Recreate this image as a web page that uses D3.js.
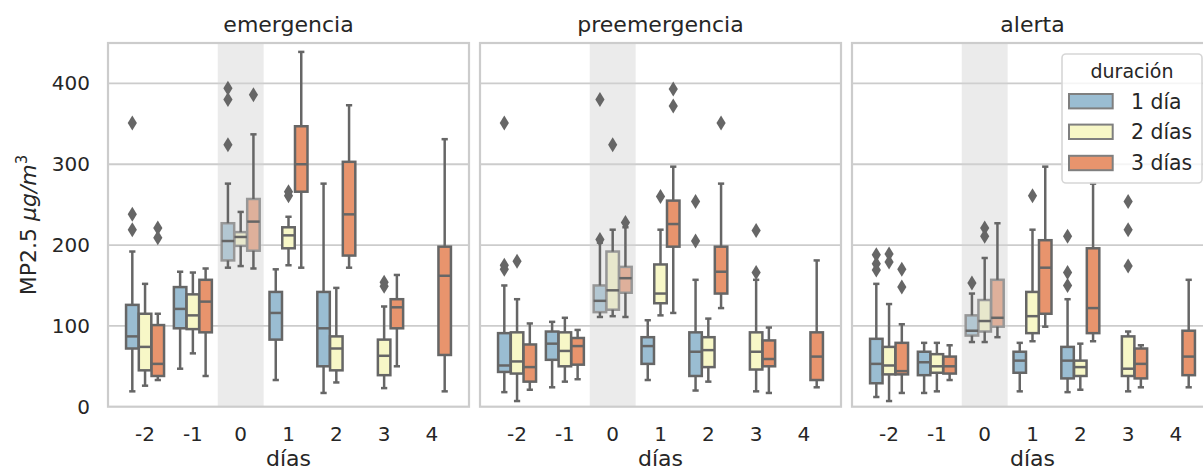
<!DOCTYPE html>
<html>
<head>
<meta charset="utf-8">
<script src="https://cdn.jsdelivr.net/npm/d3@7"></script>
<style>
  body { margin: 0; background: #fff; }
  text { font-family: "DejaVu Sans", sans-serif; fill: #262626; }
</style>
</head>
<body>
<svg id="chart" width="1203" height="472"></svg>
<script>
var paneles = ["emergencia", "preemergencia", "alerta"];
var dias = ["-2", "-1", "0", "1", "2", "3", "4"];
var duraciones = ["1 día", "2 días", "3 días"];
var colores = ["#9abdd2", "#f7f7c7", "#e8946d"];
var yTicks = [0, 100, 200, 300, 400];

// [bigote inf, Q1, mediana, Q3, bigote sup] por día (null = sin datos)
var emergencia1 = [[19,72,87,126,192],[47,97,121,148,167],[172,181,205,227,276],[33,83,116,142,170],[17,50,97,142,276],null,null];
var emergencia2 = [[26,45,74,115,152],[66,96,113,139,166],[174,199,210,216,241],[175,196,212,222,235],[30,45,72,87,147],[23,39,63,83,124],null];
var emergencia3 = [[33,38,53,101,115],[38,92,130,157,171],[171,193,229,257,337],[172,266,300,347,439],[172,187,238,303,373],[50,97,123,133,163],[19,64,162,198,331]];
// [día, duración, valor]
var emergenciaAtipicos = [["-2",0,351],["-2",0,238],["-2",0,219],["0",0,394],["0",0,380],["0",0,324],
  ["1",1,266],["1",1,261],["3",1,154],["3",1,149],["-2",2,221],["-2",2,209],["0",2,386]];

var preemergencia1 = [[18,43,51,91,150],[24,58,78,93,105],[111,117,131,150,203],[33,53,75,86,107],[20,38,68,92,157],null,null];
var preemergencia2 = [[7,41,56,92,133],[31,50,69,92,110],[112,120,144,192,219],[113,128,140,176,219],[31,49,70,86,109],[19,46,68,92,157],null];
var preemergencia3 = [[21,31,49,77,103],[34,52,75,85,95],[111,141,159,173,222],[116,198,226,255,297],[122,140,167,198,276],[17,50,59,82,98],[24,33,62,92,181]];
var preemergenciaAtipicos = [["-2",0,351],["-2",0,175],["-2",0,170],["-2",1,180],["0",0,380],["0",0,207],["0",1,324],["0",2,228],
  ["1",1,260],["1",2,393],["1",2,372],["2",0,254],["2",0,205],["2",2,351],["3",1,218],["3",1,166]];

var alerta1 = [[12,29,53,84,152],[17,39,55,68,79],[80,88,94,113,140],[19,42,57,68,79],[18,35,57,74,133],null,null];
var alerta2 = [[7,40,51,74,127],[19,42,50,65,79],[80,93,106,132,184],[81,91,112,142,219],[21,38,49,57,78],[19,38,47,87,93],null];
var alerta3 = [[17,40,44,79,102],[33,41,50,62,76],[86,99,110,157,227],[99,115,172,206,297],[81,91,122,196,276],[24,35,53,72,76],[24,39,62,94,157]];
var alertaAtipicos = [["-2",0,188],["-2",0,177],["-2",0,169],["-2",1,189],["-2",1,179],["-2",2,170],["-2",2,148],
  ["0",0,153],["0",1,221],["0",1,211],["1",1,261],["2",0,211],["2",0,166],["2",0,150],["3",1,254],["3",1,219],["3",1,174]];

var cajas = [[emergencia1, emergencia2, emergencia3],
             [preemergencia1, preemergencia2, preemergencia3],
             [alerta1, alerta2, alerta3]];
var atipicos = [emergenciaAtipicos, preemergenciaAtipicos, alertaAtipicos];

var svg = d3.select("#chart");
var lineColor = "#666666";
var gridColor = "#cccccc";
var lw = 2.5;

var top_ = 43, bottom = 406.7, panelW = 361;
var lefts = [108, 480, 852];

var y = d3.scaleLinear().domain([0, 450]).range([bottom, top_]);

paneles.forEach(function(nombre, p) {
  var left = lefts[p];
  var x = d3.scaleBand().domain(dias).range([left, left + panelW])
    .paddingInner(0).paddingOuter(0.275);
  var step = x.step();
  var hue = d3.scaleBand().domain([0, 1, 2]).range([-0.4 * step, 0.4 * step]);
  var bw = hue.bandwidth() * 0.98;
  var cx = function(d, h) { return x(d) + step / 2 + hue(h) + hue.bandwidth() / 2; };

  var g = svg.append("g");

  // grid
  g.selectAll(".grid").data(yTicks.slice(1)).enter().append("line")
    .attr("x1", left).attr("x2", left + panelW)
    .attr("y1", function(d) { return y(d); }).attr("y2", function(d) { return y(d); })
    .attr("stroke", gridColor).attr("stroke-width", 1.8);

  var stats = [];
  cajas[p].forEach(function(serie, h) {
    serie.forEach(function(s, i) {
      if (s) stats.push({ dia: dias[i], h: h, s: s });
    });
  });

  // boxes
  g.selectAll(".box").data(stats).enter().append("rect")
    .attr("x", function(d) { return cx(d.dia, d.h) - bw / 2; })
    .attr("width", bw)
    .attr("y", function(d) { return y(d.s[3]); })
    .attr("height", function(d) { return y(d.s[1]) - y(d.s[3]); })
    .attr("fill", function(d) { return colores[d.h]; })
    .attr("stroke", lineColor).attr("stroke-width", lw);

  // shaded day 0
  var c0 = x("0") + step / 2;
  g.append("rect")
    .attr("x", c0 - 0.48 * step).attr("width", 0.96 * step)
    .attr("y", top_).attr("height", bottom - top_)
    .attr("fill", "#d3d3d3").attr("opacity", 0.45);

  // whiskers
  g.selectAll(".wlo").data(stats).enter().append("line")
    .attr("x1", function(d) { return cx(d.dia, d.h); }).attr("x2", function(d) { return cx(d.dia, d.h); })
    .attr("y1", function(d) { return y(d.s[1]); }).attr("y2", function(d) { return y(d.s[0]); })
    .attr("stroke", lineColor).attr("stroke-width", lw);
  g.selectAll(".whi").data(stats).enter().append("line")
    .attr("x1", function(d) { return cx(d.dia, d.h); }).attr("x2", function(d) { return cx(d.dia, d.h); })
    .attr("y1", function(d) { return y(d.s[3]); }).attr("y2", function(d) { return y(d.s[4]); })
    .attr("stroke", lineColor).attr("stroke-width", lw);

  // caps
  [0, 4].forEach(function(k) {
    g.selectAll(".cap" + k).data(stats).enter().append("line")
      .attr("x1", function(d) { return cx(d.dia, d.h) - bw / 4; })
      .attr("x2", function(d) { return cx(d.dia, d.h) + bw / 4; })
      .attr("y1", function(d) { return y(d.s[k]); }).attr("y2", function(d) { return y(d.s[k]); })
      .attr("stroke", lineColor).attr("stroke-width", lw);
  });

  // medians
  g.selectAll(".med").data(stats).enter().append("line")
    .attr("x1", function(d) { return cx(d.dia, d.h) - bw / 2; })
    .attr("x2", function(d) { return cx(d.dia, d.h) + bw / 2; })
    .attr("y1", function(d) { return y(d.s[2]); }).attr("y2", function(d) { return y(d.s[2]); })
    .attr("stroke", lineColor).attr("stroke-width", lw);

  // fliers (thin diamonds)
  g.selectAll(".flier").data(atipicos[p]).enter().append("path")
    .attr("transform", function(d) { return "translate(" + cx(d[0], d[1]) + "," + y(d[2]) + ")"; })
    .attr("d", "M0,-7.5L4.6,0L0,7.5L-4.6,0Z")
    .attr("fill", lineColor);

  // frame
  g.append("rect")
    .attr("x", left).attr("y", top_).attr("width", panelW).attr("height", bottom - top_)
    .attr("fill", "none").attr("stroke", gridColor).attr("stroke-width", 2.2);

  // x axis
  var xa = g.append("g").attr("transform", "translate(0," + bottom + ")")
    .call(d3.axisBottom(x).tickSize(0).tickPadding(20));
  xa.select(".domain").remove();
  xa.selectAll("text").style("font-size", "20px").attr("fill", "#262626");

  if (p === 0) {
    var ya = g.append("g").attr("transform", "translate(" + left + ",0)")
      .call(d3.axisLeft(y).tickValues(yTicks).tickSize(0).tickPadding(18));
    ya.select(".domain").remove();
    ya.selectAll("text").style("font-size", "20px").attr("fill", "#262626");
  }

  g.append("text")
    .attr("x", left + panelW / 2).attr("y", 31.5)
    .attr("text-anchor", "middle").style("font-size", "22px")
    .text(nombre);

  g.append("text")
    .attr("x", left + panelW / 2).attr("y", 466)
    .attr("text-anchor", "middle").style("font-size", "22px")
    .text("días");
});

// y label
var yl = svg.append("text")
  .attr("transform", "translate(36,225) rotate(-90)")
  .attr("text-anchor", "middle").style("font-size", "22px");
yl.append("tspan").text("MP2.5 ");
yl.append("tspan").style("font-style", "italic").text("μg/m");
yl.append("tspan").attr("dy", "-9").style("font-size", "15px").text("3");

// legend
var lg = svg.append("g");
lg.append("rect")
  .attr("x", 1062).attr("y", 54).attr("width", 140).attr("height", 129).attr("rx", 4)
  .attr("fill", "#fff").attr("fill-opacity", 0.8)
  .attr("stroke", "#d6d6d6").attr("stroke-width", 1.6);
lg.append("text")
  .attr("x", 1132).attr("y", 78).attr("text-anchor", "middle")
  .style("font-size", "19px").text("duración");
var rows = [101.2, 131.8, 163];
lg.selectAll(".lp").data(duraciones).enter().append("rect")
  .attr("x", 1069).attr("width", 43.7)
  .attr("y", function(d, i) { return rows[i] - 7.2; }).attr("height", 14.4)
  .attr("fill", function(d, i) { return colores[i]; })
  .attr("stroke", "#7f7f7f").attr("stroke-width", 2);
lg.selectAll(".lt").data(duraciones).enter().append("text")
  .attr("x", 1131).attr("y", function(d, i) { return rows[i] + 7.3; })
  .style("font-size", "20.4px")
  .text(function(d) { return d; });
</script>
</body>
</html>
